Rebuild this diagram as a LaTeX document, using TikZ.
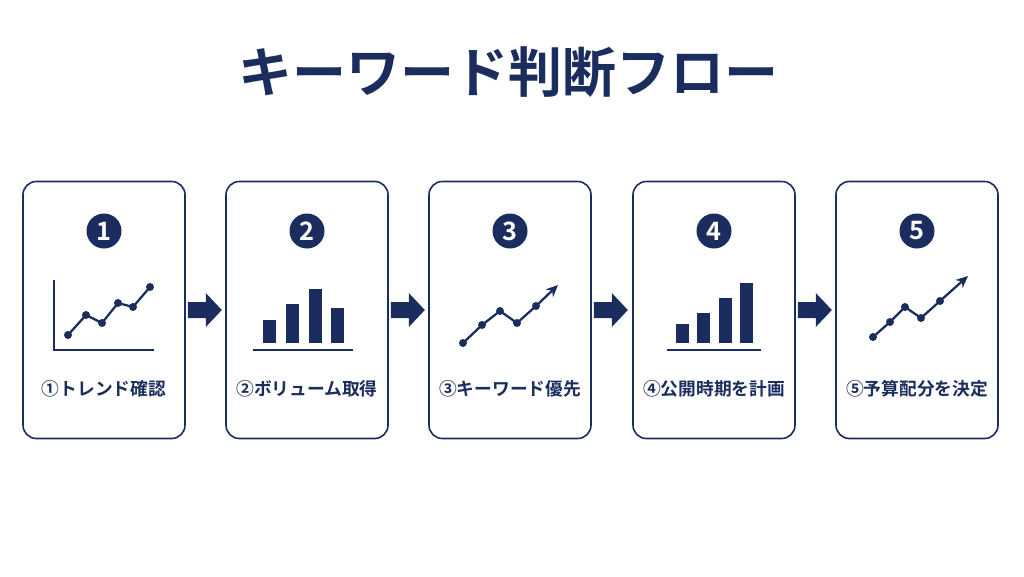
\documentclass[tikz,border=0pt]{standalone}
\usepackage{fontspec}
\setmainfont{Noto Sans CJK JP}[BoldFont={Noto Sans CJK JP Bold}]
\usetikzlibrary{arrows.meta, positioning}
\definecolor{navy}{HTML}{1B2D5E}
\newlength{\px}\setlength{\px}{0.75pt}

\tikzset{
  stepbox/.style={draw=navy, line width=1.2pt, rounded corners=10pt, minimum width=162\px, minimum height=257\px},
  badge/.style={circle, fill=navy, text=white, minimum size=35\px, inner sep=0pt, font=\bfseries\fontsize{19}{19}\selectfont},
  steplabel/.style={text=navy, font=\bfseries\fontsize{13.3}{14}\selectfont},
  dot/.style={circle, fill=navy, inner sep=0pt, minimum size=8\px},
  chartline/.style={navy, line width=1.7pt},
  flowarrow/.style={fill=navy}
}

\begin{document}
\begin{tikzpicture}[x=0.75pt, y=-0.75pt]
\useasboundingbox (0,0) rectangle (1024,576);
\node[text=navy, font=\bfseries\fontsize{40.5}{41}\selectfont] (title) at (508,72) {キーワード判断フロー};

% boxes, badges and labels
\foreach \i/\cx/\txt in {1/104/①トレンド確認, 2/307/②ボリューム取得, 3/510/③キーワード優先, 4/714/④公開時期を計画, 5/917/⑤予算配分を決定}{
  \node[stepbox] (box\i) at (\cx,310) {};
  \node[badge] (num\i) at (\cx,231) {\i};
  \node[steplabel] (lab\i) at (\cx,389) {\txt};
}

% arrows between boxes
\foreach \a/\b in {1/2, 2/3, 3/4, 4/5}{
  \path (box\a.east) ++(2,0) coordinate (s\a);
  \fill[flowarrow] (s\a) ++(0,-8) -- ++(18,0) -- ++(0,-9) -- ++(16,17) -- ++(-16,17) -- ++(0,-9) -- ++(-18,0) -- cycle;
}

% icon 1: line chart with axes
\draw[chartline] (54,280) -- (54,350) -- (154,350);
\draw[chartline] (68,335) -- (86,315) -- (102,323) -- (118,303) -- (133,307) -- (150,287);
\foreach \p in {(68,335),(86,315),(102,323),(118,303),(133,307),(150,287)}
  \node[dot] at \p {};

% icon 2: bars
\draw[chartline] (253,350) -- (353,350);
\foreach \l/\t in {263/320, 286/304, 309/289, 331/308}
  \fill[navy] (\l,343) rectangle (\l+13,\t);

% icon 3: rising line with arrow
\draw[chartline, -{Stealth[length=9pt,width=8pt]}] (463,343) -- (482,325) -- (500,311) -- (517,323) -- (536,306) -- (558,285);
\foreach \p in {(463,343),(482,325),(500,311),(517,323),(536,306)}
  \node[dot] at \p {};

% icon 4: rising bars
\draw[chartline] (667,350) -- (761,350);
\foreach \l/\t in {676/324, 697/313, 719/298, 740/283}
  \fill[navy] (\l,343) rectangle (\l+13,\t);

% icon 5: rising line with arrow
\draw[chartline, -{Stealth[length=9pt,width=8pt]}] (873,337) -- (890,322) -- (905,307) -- (921,318) -- (940,301) -- (968,276);
\foreach \p in {(873,337),(890,322),(905,307),(921,318),(940,301)}
  \node[dot] at \p {};
\end{tikzpicture}
\end{document}
